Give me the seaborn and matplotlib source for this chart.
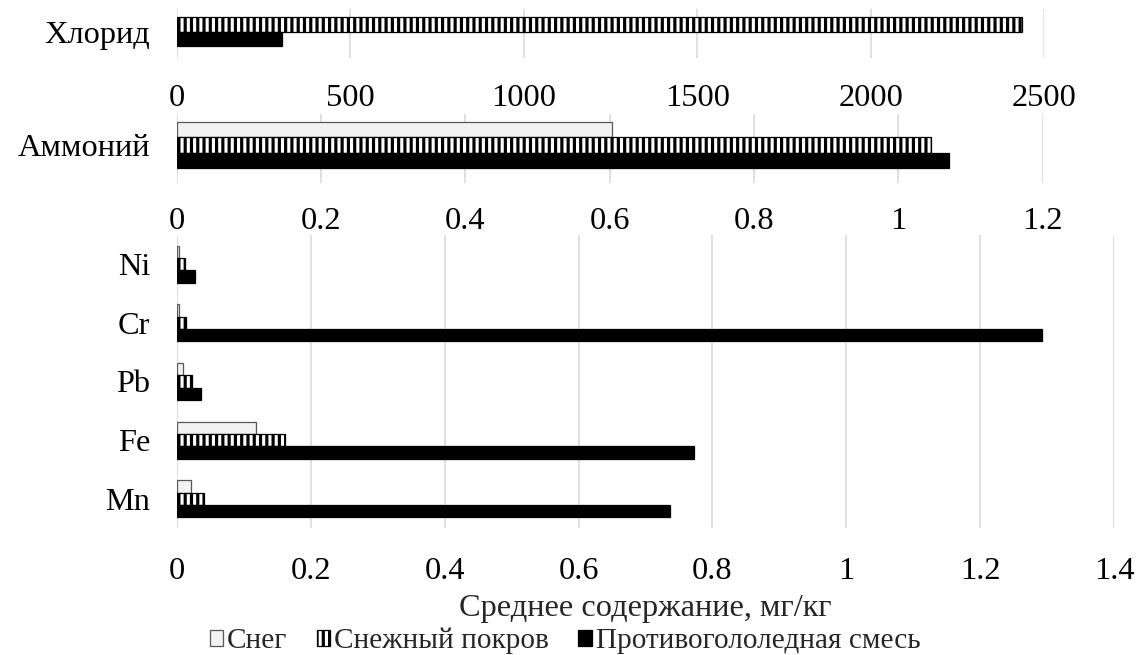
import numpy as np
import pandas as pd
import matplotlib
matplotlib.use("Agg")
import matplotlib.pyplot as plt
from matplotlib.patches import Patch
from matplotlib.ticker import FuncFormatter, MultipleLocator
import seaborn as sns

# Average content by sample type
series = ["Снег", "Снежный покров", "Противогололедная смесь"]

chloride_cat = ["Хлорид"]
chloride_cover = [2435]
chloride_mix = [304]

ammonium_cat = ["Аммоний"]
ammonium_snow = [0.604]
ammonium_cover = [1.045]
ammonium_mix = [1.07]

metals = ["Ni", "Cr", "Pb", "Fe", "Mn"]
metals_snow = [0.003, 0.003, 0.009, 0.118, 0.021]
metals_cover = [0.012, 0.014, 0.022, 0.161, 0.040]
metals_mix = [0.027, 1.292, 0.036, 0.773, 0.737]

xlabel = "Среднее содержание, мг/кг"

sns.set_style("white")
plt.rcParams["font.family"] = ["Liberation Serif", "DejaVu Serif"]
plt.rcParams["hatch.linewidth"] = 2.0

FS = 20.5
LEGEND_FS = 18.5

styles = {
    "Снег": dict(facecolor="#f2f2f2", edgecolor="#595959", hatch=None),
    "Снежный покров": dict(facecolor="white", edgecolor="black", hatch="|||"),
    "Противогололедная смесь": dict(facecolor="black", edgecolor="black", hatch=None),
}

DPI = 113.7
W, H = 1137, 655
fig = plt.figure(figsize=(W / DPI, H / DPI), dpi=DPI)


def px_axes(x0, x1, y0, y1):
    return fig.add_axes([x0 / W, 1 - y1 / H, (x1 - x0) / W, (y1 - y0) / H])


def fmt(v, _):
    return f"{v:g}"


def panel(ax, cats, cols, width, xmax, step, ylim, pad):
    levels = list(cols.keys())
    df = pd.DataFrame({"element": cats, **cols}).melt(
        id_vars="element", var_name="series", value_name="value")
    sns.barplot(data=df, y="element", x="value", hue="series",
                hue_order=levels, order=cats, orient="h", width=width,
                palette={s: styles[s]["facecolor"] for s in levels},
                saturation=1, legend=False, errorbar=None, ax=ax)
    for cont, lvl in zip(ax.containers, levels):
        st = styles[lvl]
        for p in cont:
            p.set_edgecolor(st["edgecolor"])
            p.set_linewidth(0.8)
            if st["hatch"]:
                p.set_hatch(st["hatch"])
    ax.set_xlim(0, xmax)
    ax.set_ylim(*ylim)
    ax.xaxis.set_major_locator(MultipleLocator(step))
    ax.xaxis.set_major_formatter(FuncFormatter(fmt))
    ax.xaxis.grid(True, color="#d9d9d9", lw=1.0)
    ax.yaxis.grid(False)
    ax.set_axisbelow(True)
    for s in ax.spines.values():
        s.set_visible(False)
    ax.tick_params(axis="both", length=0, labelsize=FS, colors="black")
    ax.tick_params(axis="x", pad=pad)
    ax.tick_params(axis="y", pad=17)
    ax.set_xlabel("")
    ax.set_ylabel("")


ax1 = px_axes(176.7, 1044.3, 9, 58)
panel(ax1, chloride_cat,
      {"Снежный покров": chloride_cover, "Противогололедная смесь": chloride_mix},
      0.8, 2500, 500, (0.73, -0.62), 16.5)

ax2 = px_axes(176.7, 1042.5, 114, 183)
panel(ax2, ammonium_cat,
      {"Снег": ammonium_snow, "Снежный покров": ammonium_cover,
       "Противогололедная смесь": ammonium_mix},
      0.8, 1.2, 0.2, (0.661, -0.539), 15.5)

ax3 = px_axes(177, 1114, 235, 528)
panel(ax3, metals,
      {"Снег": metals_snow, "Снежный покров": metals_cover,
       "Противогололедная смесь": metals_mix},
      0.63, 1.4, 0.2, (4.5, -0.5), 18.5)
ax3.set_xlabel(xlabel, fontsize=FS, labelpad=5)

handles = [Patch(facecolor=styles[s]["facecolor"], edgecolor=styles[s]["edgecolor"],
                 hatch=styles[s]["hatch"], linewidth=0.8) for s in series]
fig.legend(handles, series, loc="lower center", bbox_to_anchor=(0.497, -0.021),
           ncol=3, frameon=False, fontsize=LEGEND_FS, handlelength=0.45,
           handleheight=0.45, handletextpad=0.15, columnspacing=1.0,
           borderaxespad=0.1)

fig.savefig("out.png", dpi=DPI)
